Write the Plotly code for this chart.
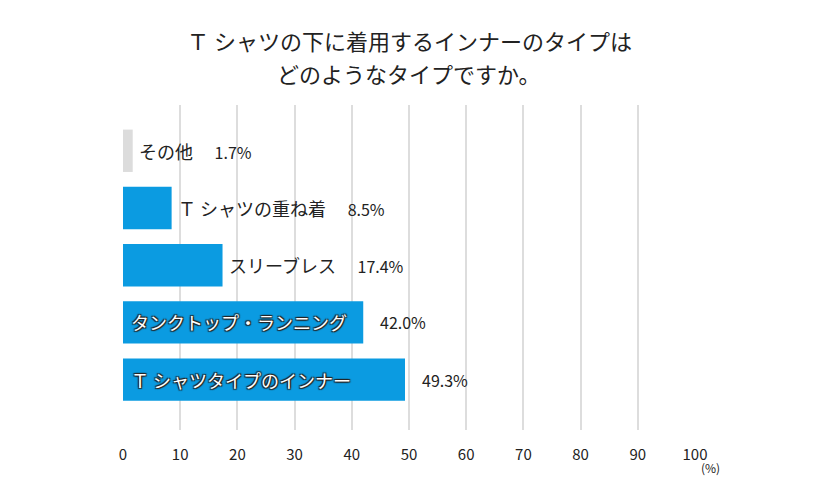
import plotly.graph_objects as go

categories = ["その他", "Ｔ シャツの重ね着", "スリーブレス", "タンクトップ・ランニング", "Ｔ シャツタイプのインナー"]
values = [1.7, 8.5, 17.4, 42.0, 49.3]
pct_labels = ["1.7%", "8.5%", "17.4%", "42.0%", "49.3%"]
tick_vals = [0, 10, 20, 30, 40, 50, 60, 70, 80, 90, 100]
title_lines = ["Ｔ シャツの下に着用するインナーのタイプは", "どのようなタイプですか。"]

FONT = "Noto Sans CJK JP"
BLUE = "#0b9be1"
GRAY = "#dcdcdc"
TXT = "#222222"

colors = [GRAY if c == "その他" else BLUE for c in categories]
ypos = list(range(len(categories)))

fig = go.Figure()
fig.add_trace(go.Bar(
    x=values, y=ypos, orientation="h",
    marker=dict(color=colors, line=dict(width=0)),
    width=0.74, hoverinfo="skip",
))

annotations = []
for i, (cat, v, p) in enumerate(zip(categories, values, pct_labels)):
    if v > 30:
        annotations.append(dict(
            x=0, y=i, xref="x", yref="y", text=cat, showarrow=False,
            xanchor="left", xshift=6,
            font=dict(family=FONT, size=18, color="white",
                      shadow="1px 1px 1px #222, -1px -1px 1px #222, 1px -1px 1px #222, -1px 1px 1px #222"),
        ))
        annotations.append(dict(
            x=v, y=i, xref="x", yref="y", text=p, showarrow=False,
            xanchor="left", xshift=15,
            font=dict(family=FONT, size=16, color=TXT),
        ))
    else:
        annotations.append(dict(
            x=v, y=i, xref="x", yref="y",
            text=cat + "\u3000\u2009<span style='font-size:16px'>" + p + "</span>",
            showarrow=False, xanchor="left", xshift=4,
            font=dict(family=FONT, size=18, color=TXT),
        ))

title_y = [40, 73]
for line, ty in zip(title_lines, title_y):
    annotations.append(dict(
        x=0.5, y=1.0, xref="paper", yref="paper", text=line, showarrow=False,
        xanchor="center", yanchor="middle", yshift=105 - ty,
        font=dict(family=FONT, size=22, color=TXT),
    ))

annotations.append(dict(
    x=1.0, y=0, xref="paper", yref="paper", text="(%)", showarrow=False,
    xanchor="left", yanchor="top", xshift=4, yshift=-27,
    font=dict(family=FONT, size=12, color=TXT),
))

fig.update_layout(
    width=820, height=500,
    paper_bgcolor="white", plot_bgcolor="white",
    margin=dict(l=123, r=125, t=105, b=70),
    showlegend=False,
    xaxis=dict(range=[0, 100], tickvals=tick_vals, showgrid=True,
               gridcolor="#dddddd", gridwidth=1.5, zeroline=False,
               showline=False, ticks="", tickfont=dict(family=FONT, size=15, color=TXT),
               ticklabelstandoff=14, fixedrange=True),
    yaxis=dict(range=[4.88, -0.8], showticklabels=False, showgrid=False,
               zeroline=False, showline=False, ticks="", fixedrange=True),
    annotations=annotations,
)

fig.write_html("out.html", config={"displayModeBar": False},
               post_script="document.body.style.margin='0';")
